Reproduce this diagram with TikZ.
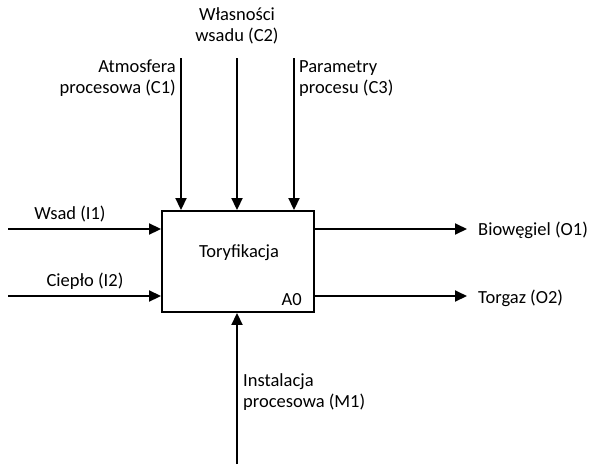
\documentclass[tikz,border=0pt]{standalone}
\usepackage{fontspec}
\setmainfont{Carlito}
\usetikzlibrary{arrows.meta}
\begin{document}
\begin{tikzpicture}[x=1pt,y=-1pt,
  flow/.style={line width=1.9pt,-{Triangle[length=12pt,width=11pt]}},
  lbl/.style={font=\fontsize{18.5}{21}\selectfont,inner sep=0pt,align=left},
  func/.style={draw,line width=1.9pt,minimum width=152pt,minimum height=101pt,inner sep=0pt}]
\useasboundingbox (0,0) rectangle (591,464);
% activity box
\node[func] (box) at (238,261.5) {};
\node[lbl] (title) at (239,253) {Toryfikacja};
\node[lbl,anchor=south east] (code) at (302,306) {A0};
% control arrows
\coordinate (c1s) at (181,58);
\coordinate (c2s) at (237,58);
\coordinate (c3s) at (294,58);
\draw[flow] (c1s) -- (c1s |- box.north);
\draw[flow] (c2s) -- (c2s |- box.north);
\draw[flow] (c3s) -- (c3s |- box.north);
\node[lbl,align=right,anchor=north east] (c1) at (176,60) {Atmosfera\\procesowa (C1)};
\node[lbl,align=center,anchor=north] (c2) at (237,7) {Własności\\wsadu (C2)};
\node[lbl,anchor=north west] (c3) at (299,60) {Parametry\\procesu (C3)};
% inputs
\coordinate (i1s) at (8,229);
\coordinate (i2s) at (8,296);
\draw[flow] (i1s) -- (i1s -| box.west);
\draw[flow] (i2s) -- (i2s -| box.west);
\node[lbl] (i1) at (70,214) {Wsad (I1)};
\node[lbl] (i2) at (85,281) {Ciepło (I2)};
% outputs
\coordinate (o1e) at (467,229);
\coordinate (o2e) at (467,296);
\draw[flow] (o1e -| box.east) -- (o1e);
\draw[flow] (o2e -| box.east) -- (o2e);
\node[lbl,anchor=west] (o1) at (478,230) {Biowęgiel (O1)};
\node[lbl,anchor=west] (o2) at (478,298) {Torgaz (O2)};
% mechanism
\coordinate (m1s) at (237,464);
\draw[flow] (m1s) -- (m1s |- box.south);
\node[lbl,anchor=north west] (m1) at (243,373) {Instalacja\\procesowa (M1)};
\end{tikzpicture}
\end{document}
